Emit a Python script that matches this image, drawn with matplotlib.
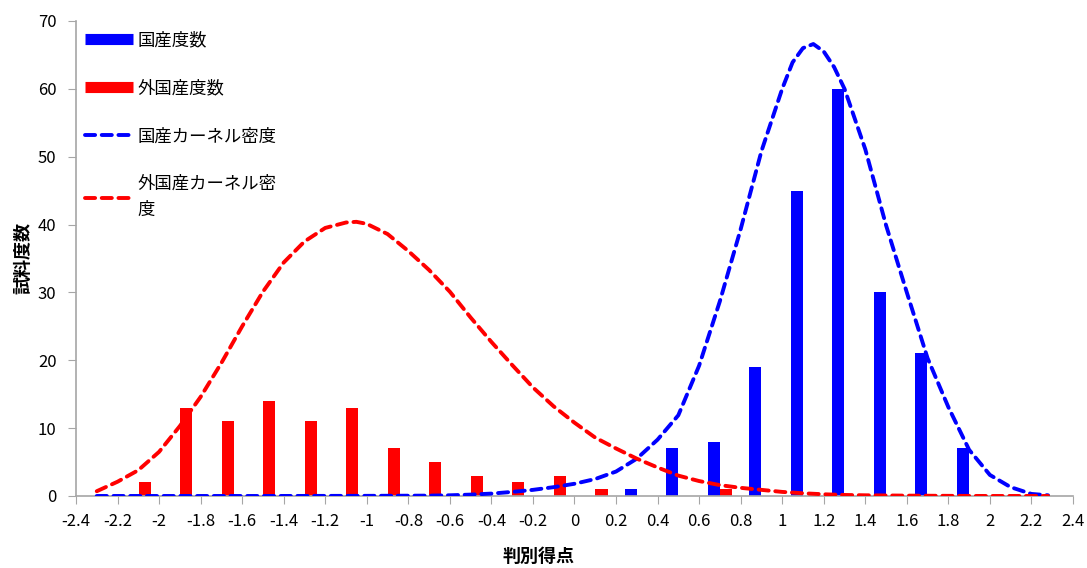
import matplotlib
matplotlib.use("Agg")
import matplotlib.pyplot as plt
from matplotlib.lines import Line2D

plt.rcParams['font.family'] = ['Noto Sans CJK JP', 'DejaVu Sans']

# bar data (bin centres and counts)
red_x = [-2.07, -1.87, -1.67, -1.47, -1.27, -1.07, -0.87, -0.67, -0.47, -0.27, -0.07, 0.13, 0.33, 0.53, 0.73]
red_counts = [2, 13, 11, 14, 11, 13, 7, 5, 3, 2, 3, 1, 0, 0, 1]
blue_x = [0.27, 0.47, 0.67, 0.87, 1.07, 1.27, 1.47, 1.67, 1.87]
blue_counts = [1, 7, 8, 19, 45, 60, 30, 21, 7]

# kernel density curves
red_kx = [-2.3, -2.2, -2.1, -2.0, -1.9, -1.8, -1.7, -1.6, -1.5, -1.4, -1.3, -1.2, -1.1, -1.05, -1.0,
          -0.9, -0.8, -0.7, -0.6, -0.5, -0.4, -0.3, -0.2, -0.1, 0.0, 0.1, 0.2, 0.3, 0.4, 0.5,
          0.6, 0.7, 0.8, 0.9, 1.0, 1.1, 1.2, 1.3, 1.4, 1.6, 1.8, 2.0, 2.28]
red_ky = [0.7, 2.1, 3.8, 6.5, 10.3, 14.6, 19.6, 25.0, 30.1, 34.4, 37.5, 39.5, 40.3, 40.4, 40.1,
          38.6, 36.1, 33.3, 30.1, 26.3, 22.7, 19.3, 16.0, 13.2, 10.8, 8.6, 7.0, 5.5, 4.2, 3.0,
          2.2, 1.6, 1.2, 0.9, 0.6, 0.4, 0.25, 0.15, 0.1, 0.05, 0.02, 0.0, 0.0]
blue_kx = [-2.3, -1.5, -1.0, -0.7, -0.6, -0.5, -0.4, -0.3, -0.2, -0.1, 0.0, 0.1, 0.2, 0.3, 0.4,
           0.5, 0.6, 0.7, 0.8, 0.9, 1.0, 1.05, 1.1, 1.15, 1.2, 1.25, 1.3, 1.4, 1.5, 1.6, 1.7,
           1.8, 1.9, 2.0, 2.1, 2.2, 2.28]
blue_ky = [0.0, 0.0, 0.02, 0.05, 0.1, 0.2, 0.35, 0.6, 0.9, 1.3, 1.8, 2.5, 3.6, 5.5, 8.3,
           11.9, 19.2, 28.7, 39.3, 50.8, 60.0, 63.9, 66.0, 66.6, 65.5, 63.2, 60.0, 51.1, 39.9, 30.0, 20.3,
           13.1, 6.8, 3.1, 1.3, 0.3, 0.1]

xticks = [round(-2.4 + 0.2 * i, 1) for i in range(25)]
yticks = [0, 10, 20, 30, 40, 50, 60, 70]

fig = plt.figure(figsize=(10.87, 5.68), dpi=100)
ax = fig.add_axes([0.0699, 0.1268, 0.9172, 0.8363])

bw = 0.058
ax.bar(red_x, red_counts, width=bw, color='#ff0000', edgecolor='none', zorder=2)
ax.bar(blue_x, blue_counts, width=bw, color='#0000ff', edgecolor='none', zorder=2)

ax.plot(blue_kx, blue_ky, color='#0000ff', lw=2.8, dashes=(2.6, 1.7), dash_capstyle='round', zorder=3)
ax.plot(red_kx, red_ky, color='#ff0000', lw=2.8, dashes=(2.6, 1.7), dash_capstyle='round', zorder=3)

ax.set_xlim(-2.4, 2.4)
ax.set_ylim(0, 70)
ax.set_xticks(xticks)
ax.set_xticklabels([('%g' % v) for v in xticks])
ax.set_yticks(yticks)
ax.tick_params(axis='both', direction='out', length=6, color='#a6a6a6', labelsize=12)
ax.tick_params(axis='y', pad=8)
ax.tick_params(axis='x', pad=6)
for s in ['top', 'right']:
    ax.spines[s].set_visible(False)
for s in ['left', 'bottom']:
    ax.spines[s].set_color('#a6a6a6')
    ax.spines[s].set_linewidth(1.2)

ax.set_ylabel('試料度数', fontsize=13, fontweight='bold')
ax.yaxis.set_label_coords(-0.044, 0.5)
ax.set_xlabel('判別得点', fontsize=13, fontweight='bold')
ax.xaxis.set_label_coords(0.464, -0.107)

handles = [
    Line2D([], [], color='#0000ff', lw=8, solid_capstyle='butt'),
    Line2D([], [], color='#ff0000', lw=8, solid_capstyle='butt'),
    Line2D([], [], color='#0000ff', lw=2.8, dashes=(2.6, 1.7), dash_capstyle='round'),
    Line2D([], [], color='#ff0000', lw=2.8, dashes=(2.6, 1.7), dash_capstyle='round'),
]
labels = ['国産度数', '外国産度数', '国産カーネル密度', '外国産カーネル密\n度']
leg = ax.legend(handles, labels, loc='upper left', bbox_to_anchor=(-0.005, 1.007), frameon=False,
                fontsize=12.5, handlelength=2.8, labelspacing=1.72, handletextpad=0.25,
                borderaxespad=0.5, borderpad=0.3)
for t in leg.get_texts():
    t.set_linespacing(1.55)

fig.savefig('out.png', dpi=100)
